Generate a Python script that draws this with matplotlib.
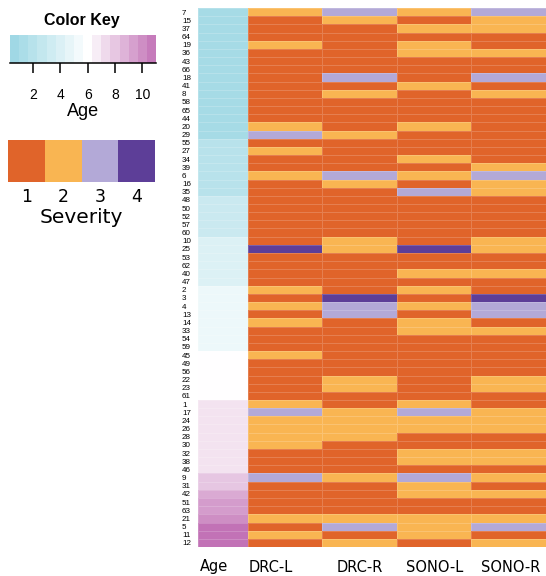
import matplotlib
matplotlib.use("Agg")
import matplotlib.pyplot as plt
import numpy as np
from matplotlib.colors import ListedColormap, BoundaryNorm, LinearSegmentedColormap, TwoSlopeNorm

# patients, top to bottom
row_ids = [7, 15, 37, 64, 19, 36, 43, 66, 18, 41, 8, 58, 65, 44, 20, 29,
           55, 27, 34, 39, 6, 16, 35, 48, 50, 52, 57, 60, 10, 25, 53, 62,
           40, 47, 2, 3, 4, 13, 14, 33, 54, 59, 45, 49, 56, 22, 23, 61,
           1, 17, 24, 26, 28, 30, 32, 38, 46, 9, 31, 42, 51, 63, 21, 5,
           11, 12]

ages = [1] * 16 + [2] * 7 + [3] * 5 + [4] * 6 + [5] * 8 + [6] * 6 + \
       [7] * 9 + [8] * 2 + [9, 9.5, 9.5, 10, 11, 11, 11]

columns = ["DRC-L", "DRC-R", "SONO-L", "SONO-R"]
drc_l = [2, 1, 1, 1, 2, 1, 1, 1, 1, 1, 1, 1, 1, 1, 2, 3,
         1, 2, 1, 1, 2, 1, 1, 1, 1, 1, 1, 1, 1, 4, 1, 1,
         1, 1, 2, 1, 2, 1, 2, 1, 1, 1, 2, 1, 1, 1, 1, 1,
         2, 3, 2, 2, 2, 2, 1, 1, 1, 3, 1, 1, 1, 1, 2, 1,
         2, 1]
drc_r = [3, 2, 1, 1, 1, 1, 1, 1, 3, 1, 2, 1, 1, 1, 1, 2,
         1, 1, 1, 1, 3, 2, 1, 1, 1, 1, 1, 1, 2, 2, 1, 1,
         1, 1, 1, 4, 3, 3, 1, 1, 1, 1, 1, 1, 1, 2, 2, 1,
         1, 2, 2, 2, 2, 1, 1, 1, 1, 2, 1, 1, 1, 1, 2, 3,
         1, 2]
sono_l = [2, 1, 2, 1, 2, 2, 1, 1, 1, 2, 1, 1, 1, 1, 2, 1,
          1, 1, 2, 1, 2, 1, 3, 1, 1, 1, 1, 1, 1, 4, 1, 1,
          2, 1, 2, 1, 2, 1, 2, 2, 1, 1, 1, 1, 1, 1, 1, 1,
          2, 3, 2, 2, 1, 1, 2, 2, 1, 3, 2, 2, 1, 1, 2, 2,
          2, 1]
sono_r = [3, 2, 2, 1, 1, 2, 1, 1, 3, 1, 2, 1, 1, 1, 1, 1,
          1, 1, 1, 2, 3, 2, 2, 1, 1, 1, 1, 1, 2, 2, 1, 1,
          2, 1, 1, 4, 3, 3, 1, 2, 1, 1, 1, 1, 1, 2, 2, 1,
          1, 2, 2, 2, 1, 1, 2, 2, 1, 2, 1, 2, 1, 1, 2, 3,
          1, 2]

severity_levels = [1, 2, 3, 4]
severity_colors = ["#e0642a", "#f9b552", "#b3a9d7", "#5d3e98"]
age_ticks = [2, 4, 6, 8, 10]

W, H = 546, 576
fig = plt.figure(figsize=(W / 100, H / 100), dpi=100)


def px_axes(x0, y0, x1, y1):
    return fig.add_axes([x0 / W, 1 - y1 / H, (x1 - x0) / W, (y1 - y0) / H])


age_cmap = LinearSegmentedColormap.from_list("age", ["#9ad6e3", "#ffffff", "#c272b6"])
age_norm = TwoSlopeNorm(vmin=0.3, vcenter=6, vmax=11)
sev_cmap = ListedColormap(severity_colors)
sev_norm = BoundaryNorm([0.5, 1.5, 2.5, 3.5, 4.5], 4)

# main heatmap
ax = px_axes(198, 8, 546, 547)
n = len(row_ids)
ys = np.arange(n + 1)
grid = dict(edgecolors=(1, 1, 1, 0.18), linewidth=0.4)
ax.pcolormesh([0, 0.67], ys, np.array(ages)[:, None], cmap=age_cmap, norm=age_norm, **grid)
sev = np.column_stack([drc_l, drc_r, sono_l, sono_r])
ax.pcolormesh([0.67, 1.67, 2.67, 3.67, 4.67], ys, sev, cmap=sev_cmap, norm=sev_norm, **grid)
ax.set_xlim(0, 4.67)
ax.set_ylim(n, 0)
for s in ax.spines.values():
    s.set_visible(False)

ax.set_yticks(np.arange(n) + 0.5)
ax.set_yticklabels([str(r) for r in row_ids], fontsize=5.8, family="Liberation Sans")
ax.tick_params(axis="y", length=0, pad=11.5)
for lab in ax.get_yticklabels():
    lab.set_ha("left")

xcent = [0.335, 1.17, 2.17, 3.17, 4.17]
xoff = [-0.12, -0.19, 0, 0.01, 0.03]
ax.set_xticks([c + o for c, o in zip(xcent, xoff)])
ax.set_xticklabels(["Age"] + columns, fontsize=10.5)
ax.tick_params(axis="x", length=0, pad=9)

# colour key for age
cax = px_axes(10, 35, 156, 63)
edges = np.linspace(0.3, 11, 17)
mids = (edges[:-1] + edges[1:]) / 2
cax.pcolormesh(edges, [0, 1], mids[None, :], cmap=age_cmap, norm=age_norm)
cax.set_xlim(0.3, 11)
cax.set_ylim(0, 1)
cax.set_yticks([])
for k in ["top", "left", "right"]:
    cax.spines[k].set_visible(False)
cax.spines["bottom"].set_linewidth(1.1)
cax.set_xticks(age_ticks)
cax.set_xticklabels([str(t) for t in age_ticks], fontsize=10, family="Liberation Sans")
cax.tick_params(axis="x", length=7, width=1.1, pad=11)
cax.set_xlabel("Age", fontsize=13, family="Liberation Sans", labelpad=1)

fig.text(82 / W, 1 - 21 / H, "Color Key", fontsize=11.5, fontweight="bold",
         family="Liberation Sans", ha="center", va="center")

# severity legend
sax = px_axes(8, 140, 155, 182)
sax.pcolormesh(np.arange(5) + 0.5, [0, 1], np.array(severity_levels)[None, :],
               cmap=sev_cmap, norm=sev_norm)
sax.set_xlim(0.5, 4.5)
sax.set_yticks([])
for s in sax.spines.values():
    s.set_visible(False)
sax.set_xticks(severity_levels)
sax.set_xticklabels([str(v) for v in severity_levels], fontsize=12.5)
sax.tick_params(axis="x", length=0, pad=4)
sax.set_xlabel("Severity", fontsize=14.5, labelpad=2)

fig.savefig("out.png", dpi=100)
